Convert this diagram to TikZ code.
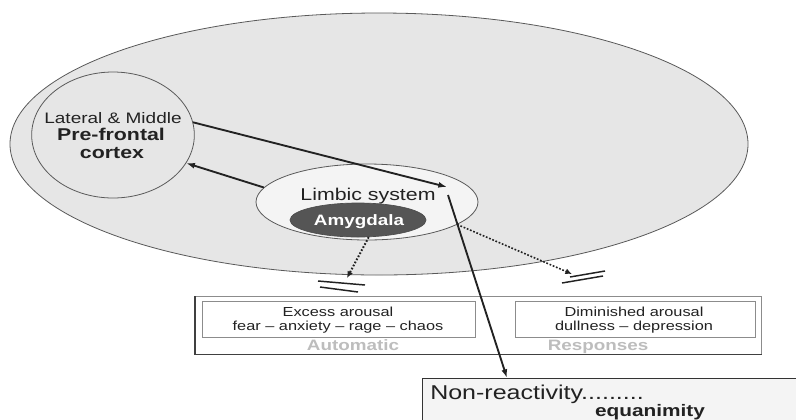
\documentclass[tikz,border=0pt]{standalone}
\usepackage{fontspec}
\setmainfont{Liberation Sans}[FakeStretch=1.25]
\usetikzlibrary{shapes.geometric,arrows.meta}
\definecolor{ink}{HTML}{222222}
\definecolor{region}{HTML}{E6E6E6}
\definecolor{soft}{HTML}{F4F4F4}
\definecolor{amyg}{HTML}{555555}
\definecolor{faint}{HTML}{BDBDBD}
\tikzset{
  zone/.style={ellipse, draw=black!65, line width=0.6pt, inner sep=0pt},
  label/.style={anchor=base, text=ink, inner sep=0pt},
  link/.style={draw=ink, line width=1.4pt, -{Latex[length=6.5pt,width=4.5pt]}},
  damped/.style={draw=ink, line width=1.5pt, dash pattern=on 1.3pt off 1.3pt, -{Latex[length=5pt,width=4.5pt]}},
  stopbar/.style={draw=ink, line width=1.1pt},
  respbox/.style={draw=black!45, line width=0.6pt, fill=white},
}
\begin{document}
\begin{tikzpicture}[x=0.75pt,y=-0.75pt]
\useasboundingbox (0,0) rectangle (796,419);
\clip (0,0) rectangle (796,419);
\fill[white] (0,0) rectangle (796,419);

% brain regions
\node[zone, fill=region, minimum width=553.5pt, minimum height=196.5pt] (brain) at (379,144) {};
\node[zone, fill=region, minimum width=122pt, minimum height=94.5pt] (pfc) at (113,135) {};
\node[zone, fill=soft, minimum width=166.5pt, minimum height=57pt] (limbic) at (367,202) {};
\node[ellipse, fill=amyg, draw=black!70, line width=0.5pt, inner sep=0pt, minimum width=102pt, minimum height=25.5pt] (amy) at (358,220) {};

\node[label, font=\fontsize{11.4pt}{13pt}\selectfont] (lat) at (113,123) {Lateral \& Middle};
\node[label, font=\fontsize{12.8pt}{15pt}\selectfont\bfseries] (pre) at (111,140) {Pre-frontal};
\node[label, font=\fontsize{12.8pt}{15pt}\selectfont\bfseries] (ctx) at (112,158) {cortex};
\node[label, font=\fontsize{12.8pt}{15pt}\selectfont] (lim) at (368,200) {Limbic system};
\node[label, text=white, font=\fontsize{11.3pt}{13pt}\selectfont\bfseries] (amyt) at (359,225) {Amygdala};

% response panel
\node[respbox, minimum width=424.5pt, minimum height=43.5pt, anchor=north west] (panel) at (195,296) {};
\draw[black!75, line width=0.8pt] (panel.south west) -- (panel.north west);
\draw[black!75, line width=0.9pt] (panel.south west) -- (panel.south east);
\node[respbox, minimum width=204.75pt, minimum height=27pt, anchor=north west] (excess) at (202,301) {};
\node[respbox, minimum width=180pt, minimum height=27pt, anchor=north west] (dimin) at (515,301) {};

\node[label, font=\fontsize{9.8pt}{11pt}\selectfont] (ex1) at (338,316) {Excess arousal};
\node[label, font=\fontsize{9.8pt}{11pt}\selectfont] (ex2) at (338,330) {fear -- anxiety -- rage -- chaos};
\node[label, font=\fontsize{9.8pt}{11pt}\selectfont] (dm1) at (634,316) {Diminished arousal};
\node[label, font=\fontsize{9.8pt}{11pt}\selectfont] (dm2) at (634,330) {dullness -- depression};
\node[label, text=faint, font=\fontsize{11.3pt}{13pt}\selectfont\bfseries] (auto) at (353,350) {Automatic};
\node[label, text=faint, font=\fontsize{11.3pt}{13pt}\selectfont\bfseries] (resp) at (598,350) {Responses};

% outcome box
\node[draw=black!80, line width=0.8pt, fill=soft, minimum width=300pt, minimum height=60pt, anchor=north west] (calm) at (422,378) {};
\node[label, anchor=base west, font=\fontsize{15pt}{17pt}\selectfont] (nonr) at (430,399) {Non-reactivity.........};
\node[label, font=\fontsize{12.5pt}{15pt}\selectfont\bfseries] (equa) at (650,416) {equanimity};

% pathways
\coordinate (intoLimbic) at (447,187);
\coordinate (fromLimbic) at (448,195);
\coordinate (leftStop) at (347,278);
\coordinate (rightStop) at (572,274);

\draw[link] (pfc.9) -- (intoLimbic);
\draw[link] (limbic.172) -- (pfc.339);
\draw[link] (fromLimbic) -- (calm.north west -| 507,378);

\draw[damped] (amy.-58) -- (leftStop);
\draw[damped, line width=1.2pt] (limbic.-14) -- (rightStop);

% blocking bars
\draw[stopbar] (318,281) -- (365,285);
\draw[stopbar] (320,287) -- (358,292);
\draw[stopbar] (570,277) -- (605,271);
\draw[stopbar] (562,283) -- (603,276);
\end{tikzpicture}
\end{document}
